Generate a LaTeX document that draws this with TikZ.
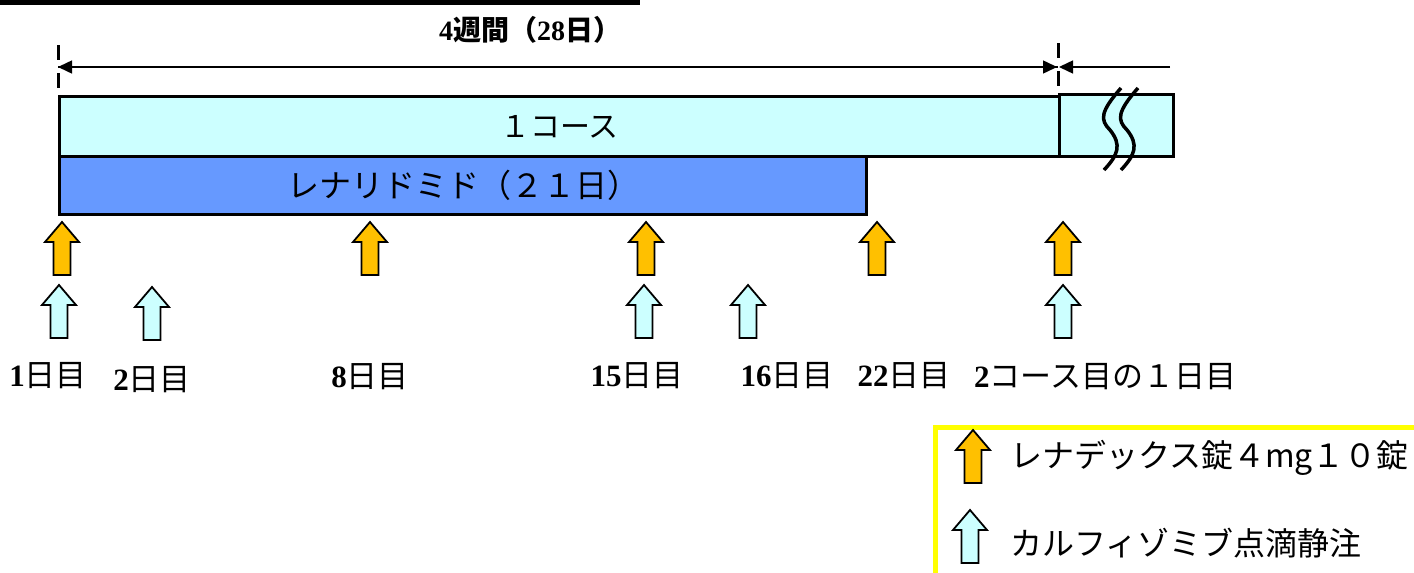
\documentclass[tikz,border=0pt]{standalone}
\usepackage{fontspec}
\setmainfont{Liberation Serif}
\newfontfamily\jpfont{Noto Sans CJK JP}
\usetikzlibrary{arrows.meta,positioning}

\definecolor{courseblue}{HTML}{CCFFFF}
\definecolor{lenablue}{HTML}{6699FF}
\definecolor{dexorange}{HTML}{FFC000}
\definecolor{legendyellow}{HTML}{FFFF00}

\tikzset{
  pics/blockup/.style={code={
    \draw[fill=#1,line width=1.8pt,line join=miter]
      (-8.5,0) -- (-8.5,-33) -- (-17,-33) -- (0,-53) -- (17,-33) -- (8.5,-33) -- (8.5,0) -- cycle;}},
  coursebar/.style={draw,line width=3pt,anchor=north west,inner sep=0pt},
  daylabel/.style={inner sep=0pt,font=\fontsize{31}{36}\selectfont},
  dimarrow/.style={line width=1.5pt,-{Triangle[length=14pt,width=13pt]}},
  dimmark/.style={line width=3pt,dash pattern=on 15pt off 13pt}
}

\begin{document}
\begin{tikzpicture}[x=1pt,y=-1pt]
\useasboundingbox (0,0) rectangle (1414,573);
\draw[line width=5pt] (0,2.5) -- (640,2.5);

% span of one course
\node[inner sep=0pt,font=\fontsize{28}{32}\selectfont] (span) at (530,30)
  {\textbf{4}{\jpfont\bfseries 週間（}\textbf{28}{\jpfont\bfseries 日）}};
\coordinate (s0) at (58,67);
\coordinate (s1) at (1058,67);
\coordinate (s2) at (1170,67);
\draw[dimmark] (58,45) -- (58,100);
\draw[dimmark] (1058,43) -- (1058,95);
\draw[dimarrow] (s1) -- (s0);
\draw[dimarrow] (s0) -- ([xshift=-1pt]s1);
\draw[dimarrow] (s2) -- ([xshift=1pt]s1);

% bars
\node[coursebar,fill=courseblue,minimum width=1000pt,minimum height=60pt,
  font=\jpfont\fontsize{30}{36}\selectfont] (course) at (58,95) {１コース};
\node[coursebar,fill=lenablue,minimum width=807pt,minimum height=58pt,
  font=\jpfont\fontsize{32}{38}\selectfont] (lena) at (58,155) {レナリドミド（２１日）};
\node[coursebar,fill=courseblue,line width=2.5pt,minimum width=114pt,minimum height=62pt] (next) at (1058,93) {};
\foreach \dx in {0,17}
  \draw[line width=3.5pt] (1121+\dx,88) .. controls (1100+\dx,112) and (1100+\dx,120) .. (1110+\dx,130)
    .. controls (1122+\dx,145) and (1118+\dx,155) .. (1104+\dx,170);

% doses
\foreach \x in {62,370,646,877,1063}
  \pic at (\x,275) {blockup=dexorange};
\foreach \x/\y in {59/338,152/340,644/338,748/338,1063/338}
  \pic at (\x,\y) {blockup=courseblue};

% days
\foreach \x/\y/\name/\num in {48/376/day1/1,152/380/day2/2,370/377/day8/8,637/376/day15/15,787/376/day16/16,904/376/day22/22}
  \node[daylabel] (\name) at (\x,\y) {\textbf{\num}{\jpfont 日目}};
\node[daylabel] (next1) at (1105,377) {\textbf{2}{\jpfont コース目の１日目}};

% legend
\draw[legendyellow,line width=5pt] (935,573) -- (935,427) -- (1414,427);
\pic at (973,483) {blockup=dexorange};
\pic at (970,563) {blockup=courseblue};
\node[anchor=west,inner sep=0pt,font=\jpfont\fontsize{32}{38}\selectfont] (legdex) at (1010,458) {レナデックス錠４mg１０錠};
\node[anchor=west,inner sep=0pt,font=\jpfont\fontsize{32}{38}\selectfont] (legcar) at (1010,543) {カルフィゾミブ点滴静注};
\end{tikzpicture}
\end{document}
